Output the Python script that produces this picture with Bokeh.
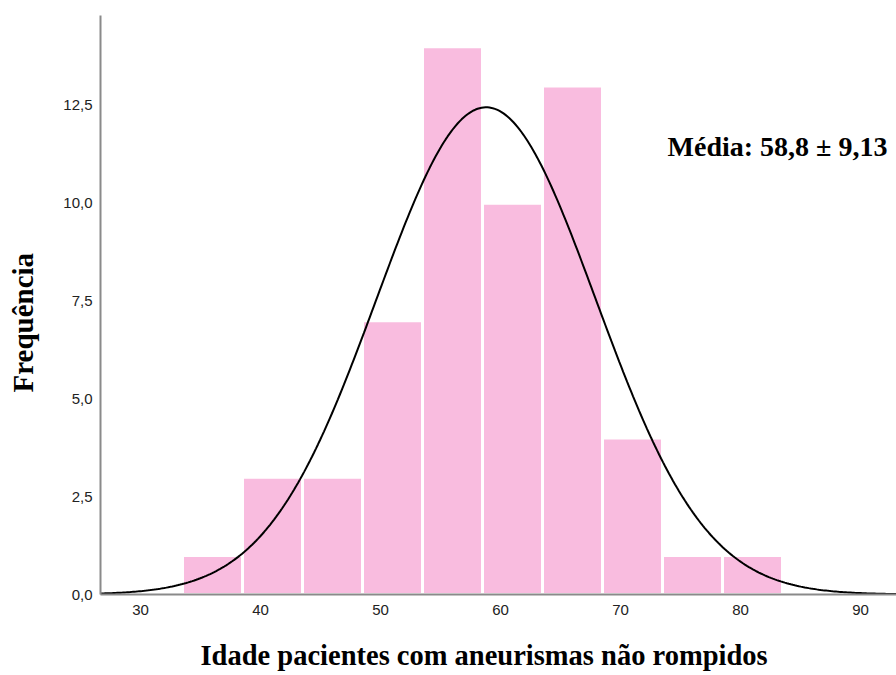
import numpy as np
from bokeh.plotting import figure
from bokeh.models import Range1d, FixedTicker, Label, Title, LinearAxis
from bokeh.embed import file_html
from bokeh.resources import INLINE

# Data
bin_left = [33.5, 38.5, 43.5, 48.5, 53.5, 58.5, 63.5, 68.5, 73.5, 78.5]
bin_width = 5
counts = [1, 3, 3, 7, 14, 10, 13, 4, 1, 1]
mean_age = 58.8
sd_age = 9.13
x_ticks = [30, 40, 50, 60, 70, 80, 90]
y_ticks = [0, 2.5, 5, 7.5, 10, 12.5]
y_tick_labels = ["0,0", "2,5", "5,0", "7,5", "10,0", "12,5"]

n_total = sum(counts)
x_start, x_end = 26.667, 93.0

p = figure(width=896, height=675, output_backend="svg", toolbar_location=None,
           x_range=Range1d(x_start, x_end), y_range=Range1d(0, 14.8),
           min_border_left=100, min_border_right=0, min_border_top=15, min_border_bottom=81)
p.outline_line_color = None
p.xgrid.visible = False
p.ygrid.visible = False
p.background_fill_color = "white"

bin_right = [l + bin_width for l in bin_left]
p.quad(left=bin_left, right=bin_right, bottom=0, top=counts,
       fill_color="#F9BCDF", line_color="white", line_width=3)

xs = np.linspace(x_start, x_end, 400)
ys = n_total * bin_width / (sd_age * np.sqrt(2 * np.pi)) * np.exp(-0.5 * ((xs - mean_age) / sd_age) ** 2)
p.line(xs, ys, line_color="black", line_width=2)

for ax in (p.xaxis[0], p.yaxis[0]):
    ax.axis_line_color = "#8a8a8a"
    ax.axis_line_width = 2
    ax.major_tick_line_color = None
    ax.minor_tick_line_color = None
    ax.major_tick_out = 0
    ax.minor_tick_out = 0
    ax.major_label_text_font = "Liberation Sans"
    ax.major_label_text_font_size = "15px"
    ax.major_label_text_color = "#222222"

p.xaxis[0].ticker = FixedTicker(ticks=x_ticks)
p.yaxis[0].ticker = FixedTicker(ticks=y_ticks)
p.yaxis[0].major_label_overrides = {t: l for t, l in zip(y_ticks, y_tick_labels)}
p.xaxis[0].major_label_standoff = 10
p.yaxis[0].major_label_standoff = 8


def spacer_axis(size, tick):
    # invisible axis used only to reserve space between the axis and its title
    return LinearAxis(ticker=FixedTicker(ticks=[tick]), axis_line_color=None,
                      major_tick_line_color=None, minor_tick_line_color=None,
                      major_tick_out=size, minor_tick_out=0, major_tick_in=0,
                      minor_tick_in=0, major_label_standoff=0,
                      major_label_overrides={tick: ""},
                      major_label_text_font_size="1px")


p.add_layout(spacer_axis(19, 60), "below")
p.add_layout(spacer_axis(13, 5), "left")

p.add_layout(Title(text="Idade pacientes com aneurismas não rompidos",
                   align="left", offset=100, vertical_align="bottom", standoff=2,
                   text_font="Liberation Serif", text_font_style="bold",
                   text_font_size="28.5px", text_color="black"), "below")

p.add_layout(Title(text="Frequência", align="left", offset=202,
                   vertical_align="top", standoff=13,
                   text_font="Liberation Serif", text_font_style="bold",
                   text_font_size="29px", text_color="black"), "left")

p.add_layout(Label(x=73.92, y=11.45, text="Média: 58,8 ± 9,13",
                   text_align="left", text_baseline="middle",
                   text_font="Liberation Serif", text_font_style="bold",
                   text_font_size="28px", text_color="black"))

open("out.html", "w").write(file_html(p, INLINE))
